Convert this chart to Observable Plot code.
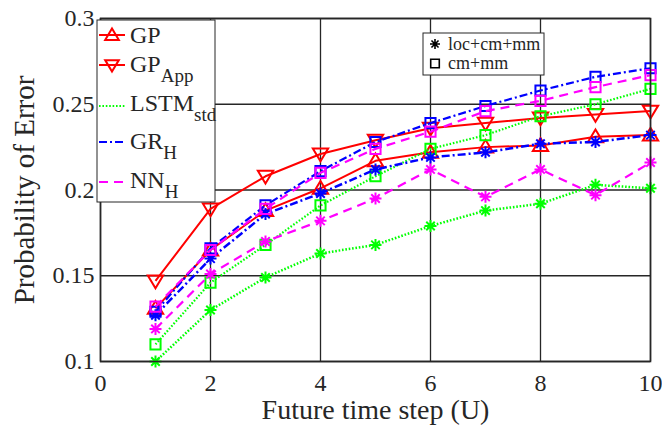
<!DOCTYPE html>
<html>
<head>
<meta charset="utf-8">
<script src="https://cdn.jsdelivr.net/npm/d3@7"></script>
<script src="https://cdn.jsdelivr.net/npm/@observablehq/plot@0.6"></script>
<style>
  html, body { margin: 0; padding: 0; background: #fff; }
  svg { display: block; }
</style>
</head>
<body>
<div id="chart"></div>
<script>
// Future time steps (U)
const steps = [1, 2, 3, 4, 5, 6, 7, 8, 9, 10];

// Probability of error per method; "Loc" = loc+cm+mm features, "Cm" = cm+mm features
const gp      = [0.131, 0.165, 0.188, 0.201, 0.217, 0.222, 0.225, 0.226, 0.231, 0.232];
const gpApp   = [0.147, 0.189, 0.208, 0.221, 0.229, 0.236, 0.239, 0.242, 0.244, 0.246];
const lstmLoc = [0.100, 0.130, 0.149, 0.163, 0.168, 0.179, 0.188, 0.192, 0.203, 0.201];
const lstmCm  = [0.110, 0.146, 0.168, 0.191, 0.208, 0.224, 0.232, 0.243, 0.250, 0.259];
const grLoc   = [0.127, 0.160, 0.186, 0.198, 0.212, 0.219, 0.222, 0.227, 0.228, 0.232];
const grCm    = [0.129, 0.166, 0.191, 0.211, 0.228, 0.239, 0.249, 0.258, 0.266, 0.271];
const nnLoc   = [0.119, 0.151, 0.170, 0.182, 0.195, 0.212, 0.196, 0.212, 0.197, 0.216];
const nnCm    = [0.132, 0.165, 0.189, 0.210, 0.224, 0.234, 0.246, 0.252, 0.260, 0.267];

const xTicks = [0, 2, 4, 6, 8, 10];
const yTicks = [0.1, 0.15, 0.2, 0.25, 0.3];

const FONT = "Liberation Serif";
const AX = "#262626";

// Marker shapes in the style of MATLAB's ^, v, *, s
const rOf = size => Math.sqrt(size / Math.PI);
const triUp = { draw(c, size) { const r = rOf(size); c.moveTo(0, -r); c.lineTo(r * 1.05, r * 0.75); c.lineTo(-r * 1.05, r * 0.75); c.closePath(); } };
const triDown = { draw(c, size) { const r = rOf(size); c.moveTo(0, r); c.lineTo(r * 1.05, -r * 0.75); c.lineTo(-r * 1.05, -r * 0.75); c.closePath(); } };
const star8 = { draw(c, size) { const r = rOf(size); const d = r * Math.SQRT1_2;
  c.moveTo(-r, 0); c.lineTo(r, 0); c.moveTo(0, -r); c.lineTo(0, r);
  c.moveTo(-d, -d); c.lineTo(d, d); c.moveTo(-d, d); c.lineTo(d, -d); } };
const square = { draw(c, size) { const r = rOf(size) * 0.78; c.rect(-r, -r, 2 * r, 2 * r); } };

// Line styles: solid, dotted, dash-dot, dashed
const DOT = "1.6 1.8";
const DASHDOT = "8 3 2 3";
const DASH = "9 6";

const series = [
  { values: gp,      color: "#ff0000", dash: null,    width: 2,   symbol: triUp,   r: 7.3 },
  { values: gpApp,   color: "#ff0000", dash: null,    width: 2,   symbol: triDown, r: 7.3 },
  { values: lstmLoc, color: "#00ff00", dash: DOT,     width: 2.5, symbol: star8,   r: 6 },
  { values: lstmCm,  color: "#00ff00", dash: DOT,     width: 2.2, symbol: square,  r: 6.5 },
  { values: grLoc,   color: "#0000ff", dash: DASHDOT, width: 2.5, symbol: star8,   r: 6 },
  { values: grCm,    color: "#0000ff", dash: DASHDOT, width: 2.2, symbol: square,  r: 6.5 },
  { values: nnLoc,   color: "#ff00ff", dash: DASH,    width: 2.2, symbol: star8,   r: 6 },
  { values: nnCm,    color: "#ff00ff", dash: DASH,    width: 2.2, symbol: square,  r: 6.5 }
];

const marks = [
  Plot.gridX(xTicks, { stroke: AX, strokeOpacity: 1, strokeWidth: 1.3 }),
  Plot.gridY(yTicks, { stroke: AX, strokeOpacity: 1, strokeWidth: 1.3 })
];
for (const s of series) {
  const rows = steps.map((t, i) => ({ t, p: s.values[i] }));
  marks.push(Plot.line(rows, {
    x: "t", y: "p", stroke: s.color, strokeWidth: s.width,
    strokeDasharray: s.dash ?? undefined, strokeLinecap: "butt", strokeLinejoin: "round"
  }));
  marks.push(Plot.dot(rows, { x: "t", y: "p", symbol: s.symbol, r: s.r, stroke: s.color, fill: "none", strokeWidth: 2 }));
}
marks.push(Plot.frame({ stroke: AX, strokeWidth: 1.6 }));
marks.push(Plot.axisX(xTicks, { tickSize: 0, tickPadding: 12, fontSize: 24, label: null, tickFormat: d => String(d) }));
marks.push(Plot.axisY(yTicks, { tickSize: 0, tickPadding: 6, fontSize: 24, label: null, tickFormat: d => String(d) }));
marks.push(Plot.text(["Future time step (U)"], { frameAnchor: "bottom", dy: 57, fontSize: 28, fill: "#262626" }));
marks.push(Plot.text(["Probability of Error"], { frameAnchor: "left", textAnchor: "middle", dx: -76, rotate: -90, fontSize: 29, fill: "#262626" }));

const chart = Plot.plot({
  width: 662,
  height: 431,
  marginLeft: 100,
  marginRight: 12,
  marginTop: 18,
  marginBottom: 70,
  style: { fontFamily: FONT, color: "#262626", background: "#fff" },
  x: { domain: [0, 10] },
  y: { domain: [0.1, 0.3] },
  marks
});
document.getElementById("chart").appendChild(chart);

// In-axes legends
const svg = d3.select(chart);
const symPath = (sym, r) => { const p = d3.path(); sym.draw(p, r * r * Math.PI); return p.toString(); };

const methodKeys = [
  { main: "GP",   sub: null,  color: "#ff0000", dash: null,    symbol: triUp },
  { main: "GP",   sub: "App", color: "#ff0000", dash: null,    symbol: triDown },
  { main: "LSTM", sub: "std", color: "#00ff00", dash: DOT,     symbol: null },
  { main: "GR",   sub: "H",   color: "#0000ff", dash: DASHDOT, symbol: null },
  { main: "NN",   sub: "H",   color: "#ff00ff", dash: DASH,    symbol: null }
];
const rowLine = [35, 65, 106, 142, 182];
const rowText = [43, 72, 111, 149, 188];

const g1 = svg.append("g").attr("text-anchor", "start");
g1.append("rect").attr("x", 97).attr("y", 20).attr("width", 118).attr("height", 182)
  .attr("fill", "#fff").attr("stroke", AX).attr("stroke-width", 1);
methodKeys.forEach((k, i) => {
  const y = rowLine[i];
  g1.append("line").attr("x1", 99).attr("x2", 125).attr("y1", y).attr("y2", y)
    .attr("stroke", k.color).attr("stroke-width", 2).attr("stroke-dasharray", k.dash);
  if (k.symbol) g1.append("path").attr("d", symPath(k.symbol, 6.5)).attr("transform", `translate(112,${y})`)
    .attr("fill", "none").attr("stroke", k.color).attr("stroke-width", 2);
  const t = g1.append("text").attr("x", 130).attr("y", rowText[i])
    .attr("font-family", FONT).attr("font-size", 24).attr("fill", "#262626");
  t.append("tspan").text(k.main);
  if (k.sub) t.append("tspan").attr("dy", 10).attr("font-size", 19).text(k.sub);
});

const featureKeys = [
  { label: "loc+cm+mm", symbol: star8,  r: 5 },
  { label: "cm+mm",     symbol: square, r: 5.5 }
];
const g2 = svg.append("g").attr("text-anchor", "start");
g2.append("rect").attr("x", 423).attr("y", 33).attr("width", 121).attr("height", 42)
  .attr("fill", "#fff").attr("stroke", AX).attr("stroke-width", 1);
featureKeys.forEach((k, i) => {
  const y = 44 + i * 19.5;
  g2.append("path").attr("d", symPath(k.symbol, k.r)).attr("transform", `translate(435,${y})`)
    .attr("fill", "none").attr("stroke", "#000").attr("stroke-width", 1.6);
  g2.append("text").attr("x", 448).attr("y", y + 5.5)
    .attr("font-family", FONT).attr("font-size", 18).attr("fill", "#262626").text(k.label);
});
</script>
</body>
</html>
